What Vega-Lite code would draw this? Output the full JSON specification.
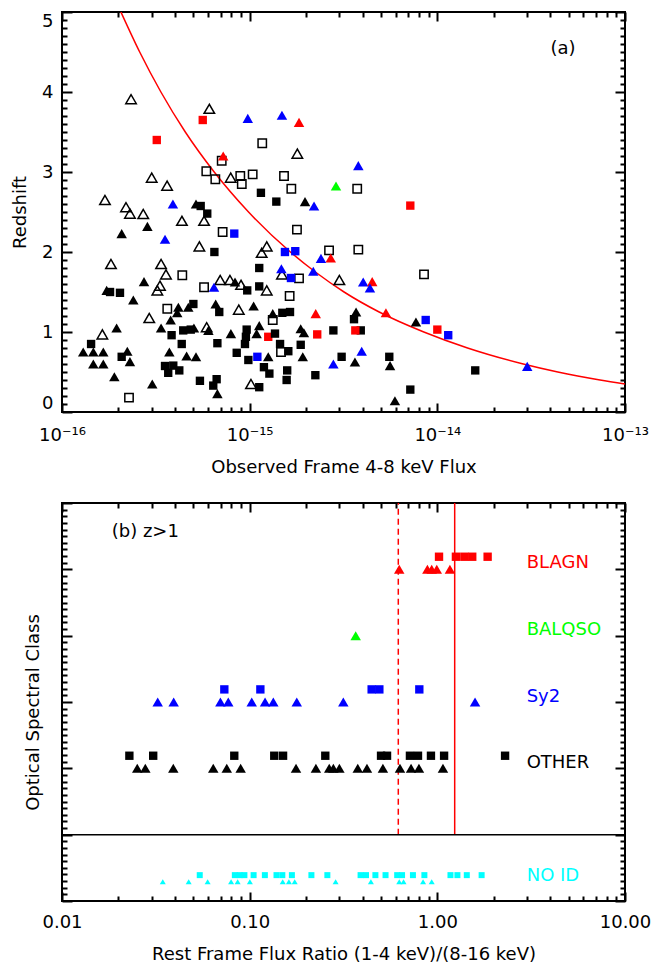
{
"$schema":"https://vega.github.io/schema/vega-lite/v6.json",
"padding":{"left":10,"top":9,"right":5,"bottom":5},
"spacing":24,
"config":{"view":{"stroke":"black","strokeWidth":2},
"axis":{"domain":false,"grid":false,"labelFont":"DejaVu Sans","titleFont":"DejaVu Sans","labelColor":"black","titleColor":"black","labelFontSize":18,"titleFontSize":18,"titleFontWeight":"normal","labelFlush":false,"labelOverlap":false,"labelBound":false},
"text":{"font":"DejaVu Sans"}},
"datasets":{
"curve":[{"lf":-15.686,"z":5.0},{"lf":-15.586,"z":4.5},{"lf":-15.473,"z":4.0},{"lf":-15.343,"z":3.5},{"lf":-15.189,"z":3.0},{"lf":-15.006,"z":2.5},{"lf":-14.783,"z":2.0},{"lf":-14.650,"z":1.75},{"lf":-14.497,"z":1.5},{"lf":-14.310,"z":1.25},{"lf":-14.072,"z":1.0},{"lf":-13.839,"z":0.8},{"lf":-13.542,"z":0.6},{"lf":-13.358,"z":0.5},{"lf":-13.133,"z":0.4},{"lf":-13.0,"z":0.35}],
"a":[
{"lf":-15.632,"z":3.91,"cls":"NOID","sym":"triangle"},
{"lf":-15.215,"z":3.79,"cls":"NOID","sym":"triangle"},
{"lf":-15.250,"z":3.65,"cls":"BLAGN","sym":"square"},
{"lf":-15.495,"z":3.40,"cls":"BLAGN","sym":"square"},
{"lf":-15.010,"z":3.67,"cls":"Sy2","sym":"triangle"},
{"lf":-14.828,"z":3.71,"cls":"Sy2","sym":"triangle"},
{"lf":-14.737,"z":3.62,"cls":"BLAGN","sym":"triangle"},
{"lf":-14.933,"z":3.36,"cls":"NOID","sym":"square"},
{"lf":-15.141,"z":3.20,"cls":"BLAGN","sym":"triangle"},
{"lf":-15.149,"z":3.14,"cls":"NOID","sym":"square"},
{"lf":-14.746,"z":3.23,"cls":"NOID","sym":"triangle"},
{"lf":-14.421,"z":3.08,"cls":"Sy2","sym":"triangle"},
{"lf":-15.231,"z":3.01,"cls":"NOID","sym":"square"},
{"lf":-15.183,"z":2.91,"cls":"NOID","sym":"square"},
{"lf":-15.101,"z":2.93,"cls":"NOID","sym":"triangle"},
{"lf":-15.050,"z":2.95,"cls":"NOID","sym":"square"},
{"lf":-15.042,"z":2.85,"cls":"NOID","sym":"square"},
{"lf":-14.984,"z":2.97,"cls":"NOID","sym":"square"},
{"lf":-14.817,"z":2.95,"cls":"NOID","sym":"square"},
{"lf":-14.778,"z":2.79,"cls":"NOID","sym":"square"},
{"lf":-15.522,"z":2.93,"cls":"NOID","sym":"triangle"},
{"lf":-15.440,"z":2.83,"cls":"NOID","sym":"triangle"},
{"lf":-14.540,"z":2.825,"cls":"BALQSO","sym":"triangle"},
{"lf":-14.427,"z":2.79,"cls":"NOID","sym":"square"},
{"lf":-14.940,"z":2.74,"cls":"OTHER","sym":"square"},
{"lf":-14.858,"z":2.63,"cls":"OTHER","sym":"square"},
{"lf":-14.705,"z":2.63,"cls":"OTHER","sym":"triangle"},
{"lf":-14.657,"z":2.575,"cls":"Sy2","sym":"triangle"},
{"lf":-15.771,"z":2.65,"cls":"NOID","sym":"triangle"},
{"lf":-15.659,"z":2.56,"cls":"NOID","sym":"triangle"},
{"lf":-15.638,"z":2.48,"cls":"NOID","sym":"triangle"},
{"lf":-15.567,"z":2.475,"cls":"NOID","sym":"triangle"},
{"lf":-15.409,"z":2.60,"cls":"Sy2","sym":"triangle"},
{"lf":-15.286,"z":2.60,"cls":"OTHER","sym":"triangle"},
{"lf":-15.261,"z":2.575,"cls":"OTHER","sym":"square"},
{"lf":-15.226,"z":2.48,"cls":"OTHER","sym":"square"},
{"lf":-14.144,"z":2.58,"cls":"BLAGN","sym":"square"},
{"lf":-15.361,"z":2.39,"cls":"NOID","sym":"triangle"},
{"lf":-15.243,"z":2.39,"cls":"NOID","sym":"triangle"},
{"lf":-15.545,"z":2.32,"cls":"OTHER","sym":"triangle"},
{"lf":-15.682,"z":2.23,"cls":"OTHER","sym":"triangle"},
{"lf":-15.144,"z":2.25,"cls":"NOID","sym":"square"},
{"lf":-15.082,"z":2.23,"cls":"Sy2","sym":"square"},
{"lf":-14.748,"z":2.28,"cls":"NOID","sym":"square"},
{"lf":-15.451,"z":2.16,"cls":"Sy2","sym":"triangle"},
{"lf":-15.268,"z":2.07,"cls":"NOID","sym":"triangle"},
{"lf":-15.188,"z":2.00,"cls":"OTHER","sym":"square"},
{"lf":-14.909,"z":2.07,"cls":"NOID","sym":"triangle"},
{"lf":-14.936,"z":1.99,"cls":"NOID","sym":"triangle"},
{"lf":-14.812,"z":2.00,"cls":"Sy2","sym":"square"},
{"lf":-14.757,"z":2.01,"cls":"Sy2","sym":"square"},
{"lf":-14.577,"z":2.02,"cls":"NOID","sym":"square"},
{"lf":-14.568,"z":1.925,"cls":"BLAGN","sym":"triangle"},
{"lf":-14.620,"z":1.92,"cls":"Sy2","sym":"triangle"},
{"lf":-14.421,"z":2.03,"cls":"NOID","sym":"square"},
{"lf":-15.739,"z":1.85,"cls":"NOID","sym":"triangle"},
{"lf":-15.472,"z":1.85,"cls":"NOID","sym":"triangle"},
{"lf":-15.446,"z":1.72,"cls":"NOID","sym":"triangle"},
{"lf":-15.359,"z":1.71,"cls":"NOID","sym":"square"},
{"lf":-14.949,"z":1.80,"cls":"OTHER","sym":"square"},
{"lf":-14.831,"z":1.79,"cls":"Sy2","sym":"triangle"},
{"lf":-14.828,"z":1.72,"cls":"NOID","sym":"triangle"},
{"lf":-14.780,"z":1.675,"cls":"Sy2","sym":"square"},
{"lf":-14.737,"z":1.67,"cls":"NOID","sym":"square"},
{"lf":-14.661,"z":1.76,"cls":"Sy2","sym":"triangle"},
{"lf":-14.522,"z":1.65,"cls":"NOID","sym":"triangle"},
{"lf":-15.563,"z":1.63,"cls":"OTHER","sym":"triangle"},
{"lf":-15.478,"z":1.58,"cls":"NOID","sym":"triangle"},
{"lf":-15.492,"z":1.52,"cls":"NOID","sym":"triangle"},
{"lf":-15.243,"z":1.56,"cls":"NOID","sym":"square"},
{"lf":-15.190,"z":1.56,"cls":"Sy2","sym":"triangle"},
{"lf":-15.157,"z":1.65,"cls":"NOID","sym":"triangle"},
{"lf":-15.105,"z":1.65,"cls":"NOID","sym":"triangle"},
{"lf":-15.078,"z":1.625,"cls":"OTHER","sym":"triangle"},
{"lf":-15.046,"z":1.59,"cls":"NOID","sym":"triangle"},
{"lf":-15.013,"z":1.52,"cls":"OTHER","sym":"square"},
{"lf":-14.949,"z":1.57,"cls":"OTHER","sym":"square"},
{"lf":-14.909,"z":1.52,"cls":"NOID","sym":"triangle"},
{"lf":-15.762,"z":1.52,"cls":"OTHER","sym":"triangle"},
{"lf":-15.744,"z":1.50,"cls":"OTHER","sym":"square"},
{"lf":-15.691,"z":1.49,"cls":"OTHER","sym":"square"},
{"lf":-15.620,"z":1.40,"cls":"OTHER","sym":"triangle"},
{"lf":-14.787,"z":1.45,"cls":"NOID","sym":"square"},
{"lf":-15.439,"z":1.29,"cls":"NOID","sym":"square"},
{"lf":-15.380,"z":1.31,"cls":"OTHER","sym":"triangle"},
{"lf":-15.386,"z":1.24,"cls":"OTHER","sym":"triangle"},
{"lf":-15.327,"z":1.31,"cls":"OTHER","sym":"triangle"},
{"lf":-15.300,"z":1.35,"cls":"OTHER","sym":"square"},
{"lf":-15.181,"z":1.35,"cls":"OTHER","sym":"triangle"},
{"lf":-15.162,"z":1.25,"cls":"OTHER","sym":"square"},
{"lf":-15.058,"z":1.28,"cls":"NOID","sym":"triangle"},
{"lf":-14.979,"z":1.325,"cls":"OTHER","sym":"triangle"},
{"lf":-14.877,"z":1.23,"cls":"OTHER","sym":"triangle"},
{"lf":-14.826,"z":1.24,"cls":"OTHER","sym":"square"},
{"lf":-14.785,"z":1.25,"cls":"OTHER","sym":"square"},
{"lf":-14.877,"z":1.15,"cls":"NOID","sym":"square"},
{"lf":-14.648,"z":1.23,"cls":"BLAGN","sym":"triangle"},
{"lf":-14.433,"z":1.25,"cls":"OTHER","sym":"triangle"},
{"lf":-14.444,"z":1.16,"cls":"OTHER","sym":"square"},
{"lf":-15.535,"z":1.175,"cls":"NOID","sym":"triangle"},
{"lf":-15.421,"z":1.15,"cls":"OTHER","sym":"triangle"},
{"lf":-15.472,"z":1.05,"cls":"OTHER","sym":"triangle"},
{"lf":-15.709,"z":1.05,"cls":"OTHER","sym":"triangle"},
{"lf":-15.785,"z":0.97,"cls":"NOID","sym":"triangle"},
{"lf":-15.354,"z":1.02,"cls":"OTHER","sym":"square"},
{"lf":-15.314,"z":1.03,"cls":"OTHER","sym":"square"},
{"lf":-15.297,"z":1.05,"cls":"OTHER","sym":"triangle"},
{"lf":-15.229,"z":1.06,"cls":"NOID","sym":"triangle"},
{"lf":-15.220,"z":1.02,"cls":"OTHER","sym":"triangle"},
{"lf":-15.416,"z":0.96,"cls":"OTHER","sym":"square"},
{"lf":-15.362,"z":0.85,"cls":"OTHER","sym":"square"},
{"lf":-15.100,"z":0.98,"cls":"OTHER","sym":"triangle"},
{"lf":-15.016,"z":1.03,"cls":"OTHER","sym":"square"},
{"lf":-15.020,"z":0.94,"cls":"OTHER","sym":"square"},
{"lf":-15.025,"z":0.85,"cls":"OTHER","sym":"square"},
{"lf":-14.949,"z":1.08,"cls":"OTHER","sym":"triangle"},
{"lf":-14.963,"z":0.98,"cls":"OTHER","sym":"triangle"},
{"lf":-14.901,"z":0.94,"cls":"BLAGN","sym":"square"},
{"lf":-14.865,"z":0.98,"cls":"OTHER","sym":"square"},
{"lf":-14.838,"z":0.85,"cls":"OTHER","sym":"square"},
{"lf":-14.833,"z":0.75,"cls":"NOID","sym":"square"},
{"lf":-14.794,"z":0.76,"cls":"OTHER","sym":"square"},
{"lf":-14.728,"z":1.04,"cls":"OTHER","sym":"triangle"},
{"lf":-14.711,"z":0.99,"cls":"OTHER","sym":"triangle"},
{"lf":-14.728,"z":0.84,"cls":"OTHER","sym":"square"},
{"lf":-14.640,"z":0.97,"cls":"BLAGN","sym":"square"},
{"lf":-14.554,"z":1.02,"cls":"OTHER","sym":"square"},
{"lf":-14.408,"z":1.02,"cls":"OTHER","sym":"square"},
{"lf":-14.437,"z":1.02,"cls":"BLAGN","sym":"square"},
{"lf":-15.845,"z":0.85,"cls":"OTHER","sym":"square"},
{"lf":-15.887,"z":0.75,"cls":"OTHER","sym":"triangle"},
{"lf":-15.833,"z":0.75,"cls":"OTHER","sym":"triangle"},
{"lf":-15.780,"z":0.75,"cls":"OTHER","sym":"triangle"},
{"lf":-15.833,"z":0.60,"cls":"OTHER","sym":"triangle"},
{"lf":-15.780,"z":0.60,"cls":"OTHER","sym":"triangle"},
{"lf":-15.682,"z":0.69,"cls":"OTHER","sym":"square"},
{"lf":-15.652,"z":0.76,"cls":"OTHER","sym":"triangle"},
{"lf":-15.638,"z":0.63,"cls":"OTHER","sym":"triangle"},
{"lf":-15.721,"z":0.44,"cls":"OTHER","sym":"triangle"},
{"lf":-15.428,"z":0.75,"cls":"OTHER","sym":"triangle"},
{"lf":-15.336,"z":0.70,"cls":"OTHER","sym":"triangle"},
{"lf":-15.286,"z":0.69,"cls":"OTHER","sym":"triangle"},
{"lf":-15.172,"z":0.86,"cls":"OTHER","sym":"square"},
{"lf":-15.069,"z":0.74,"cls":"OTHER","sym":"square"},
{"lf":-15.007,"z":0.65,"cls":"OTHER","sym":"square"},
{"lf":-14.959,"z":0.69,"cls":"Sy2","sym":"square"},
{"lf":-14.901,"z":0.69,"cls":"OTHER","sym":"triangle"},
{"lf":-14.717,"z":0.69,"cls":"OTHER","sym":"triangle"},
{"lf":-14.510,"z":0.69,"cls":"OTHER","sym":"square"},
{"lf":-15.451,"z":0.575,"cls":"OTHER","sym":"square"},
{"lf":-15.407,"z":0.58,"cls":"OTHER","sym":"square"},
{"lf":-15.375,"z":0.52,"cls":"OTHER","sym":"square"},
{"lf":-15.434,"z":0.49,"cls":"OTHER","sym":"square"},
{"lf":-15.265,"z":0.39,"cls":"OTHER","sym":"square"},
{"lf":-15.176,"z":0.41,"cls":"OTHER","sym":"square"},
{"lf":-15.194,"z":0.33,"cls":"OTHER","sym":"square"},
{"lf":-15.172,"z":0.23,"cls":"OTHER","sym":"triangle"},
{"lf":-15.519,"z":0.35,"cls":"OTHER","sym":"triangle"},
{"lf":-14.993,"z":0.35,"cls":"NOID","sym":"triangle"},
{"lf":-14.949,"z":0.31,"cls":"OTHER","sym":"square"},
{"lf":-14.924,"z":0.56,"cls":"OTHER","sym":"square"},
{"lf":-14.895,"z":0.48,"cls":"OTHER","sym":"square"},
{"lf":-14.800,"z":0.52,"cls":"OTHER","sym":"square"},
{"lf":-14.803,"z":0.40,"cls":"OTHER","sym":"square"},
{"lf":-14.650,"z":0.46,"cls":"OTHER","sym":"square"},
{"lf":-14.554,"z":0.60,"cls":"Sy2","sym":"triangle"},
{"lf":-14.439,"z":0.625,"cls":"OTHER","sym":"triangle"},
{"lf":-15.643,"z":0.18,"cls":"NOID","sym":"square"},
{"lf":-14.071,"z":1.72,"cls":"NOID","sym":"square"},
{"lf":-14.395,"z":1.625,"cls":"Sy2","sym":"triangle"},
{"lf":-14.347,"z":1.63,"cls":"BLAGN","sym":"triangle"},
{"lf":-14.359,"z":1.55,"cls":"Sy2","sym":"triangle"},
{"lf":-14.274,"z":1.24,"cls":"BLAGN","sym":"triangle"},
{"lf":-14.114,"z":1.125,"cls":"OTHER","sym":"triangle"},
{"lf":-14.062,"z":1.15,"cls":"Sy2","sym":"square"},
{"lf":-14.000,"z":1.03,"cls":"BLAGN","sym":"square"},
{"lf":-13.942,"z":0.96,"cls":"Sy2","sym":"square"},
{"lf":-14.403,"z":0.76,"cls":"Sy2","sym":"triangle"},
{"lf":-14.256,"z":0.69,"cls":"OTHER","sym":"square"},
{"lf":-14.252,"z":0.58,"cls":"OTHER","sym":"triangle"},
{"lf":-13.798,"z":0.52,"cls":"OTHER","sym":"square"},
{"lf":-13.521,"z":0.57,"cls":"Sy2","sym":"triangle"},
{"lf":-14.144,"z":0.28,"cls":"OTHER","sym":"square"},
{"lf":-14.226,"z":0.14,"cls":"OTHER","sym":"triangle"}
],
"b":[
{"lr":-1.490,"y":3,"cls":"Sy2","sym":"triangle"},
{"lr":-1.405,"y":3,"cls":"Sy2","sym":"triangle"},
{"lr":-1.156,"y":3,"cls":"Sy2","sym":"triangle"},
{"lr":-1.114,"y":3,"cls":"Sy2","sym":"triangle"},
{"lr":-0.989,"y":3,"cls":"Sy2","sym":"triangle"},
{"lr":-0.918,"y":3,"cls":"Sy2","sym":"triangle"},
{"lr":-0.874,"y":3,"cls":"Sy2","sym":"triangle"},
{"lr":-0.749,"y":3,"cls":"Sy2","sym":"triangle"},
{"lr":-0.501,"y":3,"cls":"Sy2","sym":"triangle"},
{"lr":0.201,"y":3,"cls":"Sy2","sym":"triangle"},
{"lr":-1.135,"y":3.19,"cls":"Sy2","sym":"square"},
{"lr":-0.943,"y":3.19,"cls":"Sy2","sym":"square"},
{"lr":-0.350,"y":3.19,"cls":"Sy2","sym":"square"},
{"lr":-0.309,"y":3.19,"cls":"Sy2","sym":"square"},
{"lr":-0.096,"y":3.19,"cls":"Sy2","sym":"square"},
{"lr":-0.435,"y":4,"cls":"BALQSO","sym":"triangle"},
{"lr":-0.203,"y":5,"cls":"BLAGN","sym":"triangle"},
{"lr":-0.053,"y":5,"cls":"BLAGN","sym":"triangle"},
{"lr":-0.030,"y":5,"cls":"BLAGN","sym":"triangle"},
{"lr":-0.003,"y":5,"cls":"BLAGN","sym":"triangle"},
{"lr":0.067,"y":5,"cls":"BLAGN","sym":"triangle"},
{"lr":0.009,"y":5.19,"cls":"BLAGN","sym":"square"},
{"lr":0.099,"y":5.19,"cls":"BLAGN","sym":"square"},
{"lr":0.144,"y":5.19,"cls":"BLAGN","sym":"square"},
{"lr":0.186,"y":5.19,"cls":"BLAGN","sym":"square"},
{"lr":0.268,"y":5.19,"cls":"BLAGN","sym":"square"},
{"lr":-1.641,"y":2.19,"cls":"OTHER","sym":"square"},
{"lr":-1.514,"y":2.19,"cls":"OTHER","sym":"square"},
{"lr":-1.082,"y":2.19,"cls":"OTHER","sym":"square"},
{"lr":-0.869,"y":2.19,"cls":"OTHER","sym":"square"},
{"lr":-0.822,"y":2.19,"cls":"OTHER","sym":"square"},
{"lr":-0.597,"y":2.19,"cls":"OTHER","sym":"square"},
{"lr":-0.300,"y":2.19,"cls":"OTHER","sym":"square"},
{"lr":-0.268,"y":2.19,"cls":"OTHER","sym":"square"},
{"lr":-0.146,"y":2.19,"cls":"OTHER","sym":"square"},
{"lr":-0.103,"y":2.19,"cls":"OTHER","sym":"square"},
{"lr":-0.034,"y":2.19,"cls":"OTHER","sym":"square"},
{"lr":0.036,"y":2.19,"cls":"OTHER","sym":"square"},
{"lr":0.361,"y":2.19,"cls":"OTHER","sym":"square"},
{"lr":-1.599,"y":2,"cls":"OTHER","sym":"triangle"},
{"lr":-1.556,"y":2,"cls":"OTHER","sym":"triangle"},
{"lr":-1.407,"y":2,"cls":"OTHER","sym":"triangle"},
{"lr":-1.194,"y":2,"cls":"OTHER","sym":"triangle"},
{"lr":-1.122,"y":2,"cls":"OTHER","sym":"triangle"},
{"lr":-1.048,"y":2,"cls":"OTHER","sym":"triangle"},
{"lr":-0.753,"y":2,"cls":"OTHER","sym":"triangle"},
{"lr":-0.647,"y":2,"cls":"OTHER","sym":"triangle"},
{"lr":-0.576,"y":2,"cls":"OTHER","sym":"triangle"},
{"lr":-0.554,"y":2,"cls":"OTHER","sym":"triangle"},
{"lr":-0.522,"y":2,"cls":"OTHER","sym":"triangle"},
{"lr":-0.424,"y":2,"cls":"OTHER","sym":"triangle"},
{"lr":-0.375,"y":2,"cls":"OTHER","sym":"triangle"},
{"lr":-0.290,"y":2,"cls":"OTHER","sym":"triangle"},
{"lr":-0.199,"y":2,"cls":"OTHER","sym":"triangle"},
{"lr":-0.140,"y":2,"cls":"OTHER","sym":"triangle"},
{"lr":-0.098,"y":2,"cls":"OTHER","sym":"triangle"},
{"lr":0.030,"y":2,"cls":"OTHER","sym":"triangle"},
{"lr":-1.463,"y":0.29,"cls":"NOID","sym":"triangle"},
{"lr":-1.325,"y":0.29,"cls":"NOID","sym":"triangle"},
{"lr":-1.224,"y":0.29,"cls":"NOID","sym":"triangle"},
{"lr":-1.099,"y":0.29,"cls":"NOID","sym":"triangle"},
{"lr":-1.064,"y":0.29,"cls":"NOID","sym":"triangle"},
{"lr":-0.999,"y":0.29,"cls":"NOID","sym":"triangle"},
{"lr":-0.824,"y":0.29,"cls":"NOID","sym":"triangle"},
{"lr":-0.791,"y":0.29,"cls":"NOID","sym":"triangle"},
{"lr":-0.760,"y":0.29,"cls":"NOID","sym":"triangle"},
{"lr":-0.542,"y":0.29,"cls":"NOID","sym":"triangle"},
{"lr":-0.354,"y":0.29,"cls":"NOID","sym":"triangle"},
{"lr":-0.203,"y":0.29,"cls":"NOID","sym":"triangle"},
{"lr":-0.180,"y":0.29,"cls":"NOID","sym":"triangle"},
{"lr":-0.076,"y":0.29,"cls":"NOID","sym":"triangle"},
{"lr":-0.030,"y":0.29,"cls":"NOID","sym":"triangle"},
{"lr":-1.266,"y":0.39,"cls":"NOID","sym":"square"},
{"lr":-1.079,"y":0.39,"cls":"NOID","sym":"square"},
{"lr":-1.053,"y":0.39,"cls":"NOID","sym":"square"},
{"lr":-1.028,"y":0.39,"cls":"NOID","sym":"square"},
{"lr":-0.979,"y":0.39,"cls":"NOID","sym":"square"},
{"lr":-0.919,"y":0.39,"cls":"NOID","sym":"square"},
{"lr":-0.857,"y":0.39,"cls":"NOID","sym":"square"},
{"lr":-0.826,"y":0.39,"cls":"NOID","sym":"square"},
{"lr":-0.775,"y":0.39,"cls":"NOID","sym":"square"},
{"lr":-0.671,"y":0.39,"cls":"NOID","sym":"square"},
{"lr":-0.586,"y":0.39,"cls":"NOID","sym":"square"},
{"lr":-0.409,"y":0.39,"cls":"NOID","sym":"square"},
{"lr":-0.380,"y":0.39,"cls":"NOID","sym":"square"},
{"lr":-0.330,"y":0.39,"cls":"NOID","sym":"square"},
{"lr":-0.276,"y":0.39,"cls":"NOID","sym":"square"},
{"lr":-0.214,"y":0.39,"cls":"NOID","sym":"square"},
{"lr":-0.188,"y":0.39,"cls":"NOID","sym":"square"},
{"lr":-0.130,"y":0.39,"cls":"NOID","sym":"square"},
{"lr":-0.069,"y":0.39,"cls":"NOID","sym":"square"},
{"lr":0.070,"y":0.39,"cls":"NOID","sym":"square"},
{"lr":0.107,"y":0.39,"cls":"NOID","sym":"square"},
{"lr":0.157,"y":0.39,"cls":"NOID","sym":"square"},
{"lr":0.236,"y":0.39,"cls":"NOID","sym":"square"}
],
"blabels":[
{"t":"BLAGN","cls":"BLAGN","lr":0.476,"y":5.09},
{"t":"BALQSO","cls":"BALQSO","lr":0.476,"y":4.09},
{"t":"Sy2","cls":"Sy2","lr":0.476,"y":3.07},
{"t":"OTHER","cls":"OTHER","lr":0.476,"y":2.08},
{"t":"NO ID","cls":"NOID","lr":0.476,"y":0.38}
]
},
"vconcat":[
{
"width":563,"height":400,
"layer":[
{"data":{"name":"curve"},"mark":{"type":"line","color":"#ff0000","strokeWidth":1.5,"interpolate":"monotone","clip":true},
"encoding":{
"x":{"field":"lf","type":"quantitative","scale":{"domain":[-16,-13],"nice":false,"zero":false},
"axis":{"orient":"bottom","values":[-16,-15.699,-15.523,-15.398,-15.301,-15.222,-15.155,-15.097,-15.046,-15,-14.699,-14.523,-14.398,-14.301,-14.222,-14.155,-14.097,-14.046,-14,-13.699,-13.523,-13.398,-13.301,-13.222,-13.155,-13.097,-13.046,-13],
"tickCount":1000,"tickSize":0,"labelPadding":28,"labelBaseline":"alphabetic","zindex":1,
"grid":true,"gridColor":"black","gridWidth":2,"gridOpacity":1,
"gridDash":{"condition":{"test":"abs(datum.value - round(datum.value)) < 0.001","value":[9,382,9,1000]},"value":[5,390,5,1000]},
"labelExpr":"datum.value == -16 ? '10⁻¹⁶' : datum.value == -15 ? '10⁻¹⁵' : datum.value == -14 ? '10⁻¹⁴' : datum.value == -13 ? '10⁻¹³' : ''",
"title":"Observed Frame 4-8 keV Flux","titleBaseline":"alphabetic","titleY":60}},
"y":{"field":"z","type":"quantitative","scale":{"domain":[0,5],"nice":false,"zero":false},
"axis":{"orient":"left","values":[0,0.1,0.2,0.3,0.4,0.5,0.6,0.7,0.8,0.9,1,1.1,1.2,1.3,1.4,1.5,1.6,1.7,1.8,1.9,2,2.1,2.2,2.3,2.4,2.5,2.6,2.7,2.8,2.9,3,3.1,3.2,3.3,3.4,3.5,3.6,3.7,3.8,3.9,4,4.1,4.2,4.3,4.4,4.5,4.6,4.7,4.8,4.9,5],
"tickCount":1000,"tickSize":0,"labelPadding":9,"labelFlush":true,"zindex":1,
"grid":true,"gridColor":"black","gridWidth":2,"gridOpacity":1,
"gridDash":{"condition":{"test":"abs(datum.value - round(datum.value)) < 0.001","value":[10,543,10,1000]},"value":[5,553,5,1000]},
"labelExpr":"abs(datum.value - round(datum.value)) < 0.001 ? format(datum.value, 'd') : ''",
"title":"Redshift","titleBaseline":"alphabetic","titleX":-37}}}},
{"data":{"name":"a"},"transform":[{"filter":"datum.cls == 'NOID'"}],
"mark":{"type":"point","filled":false,"color":"black","strokeWidth":1.5,"opacity":1},
"encoding":{
"x":{"field":"lf","type":"quantitative","scale":{"domain":[-16,-13],"nice":false,"zero":false},"axis":null},
"y":{"field":"z","type":"quantitative","scale":{"domain":[0,5],"nice":false,"zero":false},"axis":null},
"shape":{"field":"sym","type":"nominal","scale":{"domain":["square","triangle"],"range":["square","triangle-up"]},"legend":null},
"size":{"field":"sym","type":"nominal","scale":{"domain":["square","triangle"],"range":[70,110]},"legend":null}}},
{"data":{"name":"a"},"transform":[{"filter":"datum.cls != 'NOID'"}],
"mark":{"type":"point","filled":true,"opacity":1,"strokeWidth":0},
"encoding":{
"x":{"field":"lf","type":"quantitative","scale":{"domain":[-16,-13],"nice":false,"zero":false},"axis":null},
"y":{"field":"z","type":"quantitative","scale":{"domain":[0,5],"nice":false,"zero":false},"axis":null},
"shape":{"field":"sym","type":"nominal","scale":{"domain":["square","triangle"],"range":["square","triangle-up"]},"legend":null},
"size":{"field":"sym","type":"nominal","scale":{"domain":["square","triangle"],"range":[100,140]},"legend":null},
"color":{"field":"cls","type":"nominal","scale":{"domain":["BLAGN","BALQSO","Sy2","OTHER","NOID"],"range":["#ff0000","#00ff00","#0000ff","#000000","#00ffff"]},"legend":null}}},
{"data":{"values":[{"lf":-13.33,"z":4.54,"t":"(a)"}]},
"mark":{"type":"text","fontSize":18,"color":"black","baseline":"middle","align":"center"},
"encoding":{
"x":{"field":"lf","type":"quantitative","scale":{"domain":[-16,-13],"nice":false,"zero":false},"axis":null},
"y":{"field":"z","type":"quantitative","scale":{"domain":[0,5],"nice":false,"zero":false},"axis":null},
"text":{"field":"t"}}}
],
"resolve":{"axis":{"x":"independent","y":"independent"}}
},
{
"width":563,"height":398,
"layer":[
{"data":{"values":[{"lr":-0.208}]},"mark":{"type":"rule","color":"#ff0000","strokeWidth":1.5,"strokeDash":[6,4]},
"encoding":{"x":{"field":"lr","type":"quantitative","scale":{"domain":[-2,1],"nice":false,"zero":false},"axis":null},
"y":{"datum":1,"type":"quantitative","scale":{"domain":[0,6],"nice":false,"zero":false},"axis":null},"y2":{"datum":6}}},
{"data":{"values":[{"lr":0.0925}]},"mark":{"type":"rule","color":"#ff0000","strokeWidth":1.5},
"encoding":{"x":{"field":"lr","type":"quantitative","scale":{"domain":[-2,1],"nice":false,"zero":false},"axis":null},
"y":{"datum":1,"type":"quantitative","scale":{"domain":[0,6],"nice":false,"zero":false},"axis":null},"y2":{"datum":6}}},
{"data":{"values":[{"y":1}]},"mark":{"type":"rule","color":"black","strokeWidth":1.5},
"encoding":{"y":{"field":"y","type":"quantitative","scale":{"domain":[0,6],"nice":false,"zero":false},"axis":null}}},
{"data":{"name":"b"},"transform":[{"filter":"datum.cls != 'NOID'"}],
"mark":{"type":"point","filled":true,"opacity":1,"strokeWidth":0},
"encoding":{
"x":{"field":"lr","type":"quantitative","scale":{"domain":[-2,1],"nice":false,"zero":false},
"axis":{"orient":"bottom","values":[-2,-1.699,-1.523,-1.398,-1.301,-1.222,-1.155,-1.097,-1.046,-1,-0.699,-0.523,-0.398,-0.301,-0.222,-0.155,-0.097,-0.046,0,0.301,0.477,0.602,0.699,0.778,0.845,0.903,0.954,1],
"tickCount":1000,"tickSize":0,"labelPadding":26,"labelBaseline":"alphabetic","zindex":1,
"grid":true,"gridColor":"black","gridWidth":2,"gridOpacity":1,
"gridDash":{"condition":{"test":"abs(datum.value - round(datum.value)) < 0.001","value":[9,380,9,1000]},"value":[5,388,5,1000]},
"labelExpr":"abs(datum.value - round(datum.value)) < 0.001 ? format(pow(10, datum.value), '.2f') : ''",
"title":"Rest Frame Flux Ratio (1-4 keV)/(8-16 keV)","titleBaseline":"alphabetic","titleY":58}},
"y":{"field":"y","type":"quantitative","scale":{"domain":[0,6],"nice":false,"zero":false},
"axis":{"orient":"left","values":[0,0.1,0.2,0.3,0.4,0.5,0.6,0.7,0.8,0.9,1,1.1,1.2,1.3,1.4,1.5,1.6,1.7,1.8,1.9,2,2.1,2.2,2.3,2.4,2.5,2.6,2.7,2.8,2.9,3,3.1,3.2,3.3,3.4,3.5,3.6,3.7,3.8,3.9,4,4.1,4.2,4.3,4.4,4.5,4.6,4.7,4.8,4.9,5,5.1,5.2,5.3,5.4,5.5,5.6,5.7,5.8,5.9,6],
"tickCount":1000,"tickSize":0,"labels":false,"zindex":1,
"grid":true,"gridColor":"black","gridWidth":2,"gridOpacity":1,
"gridDash":{"condition":{"test":"abs(datum.value - round(datum.value)) < 0.001","value":[10,543,10,1000]},"value":[5,553,5,1000]},
"title":"Optical Spectral Class","titleBaseline":"alphabetic","titleX":-24,"titleY":209}},
"shape":{"field":"sym","type":"nominal","scale":{"domain":["square","triangle"],"range":["square","triangle-up"]},"legend":null},
"size":{"field":"sym","type":"nominal","scale":{"domain":["square","triangle"],"range":[100,140]},"legend":null},
"color":{"field":"cls","type":"nominal","scale":{"domain":["BLAGN","BALQSO","Sy2","OTHER","NOID"],"range":["#ff0000","#00ff00","#0000ff","#000000","#00ffff"]},"legend":null}}},
{"data":{"name":"b"},"transform":[{"filter":"datum.cls == 'NOID'"}],
"mark":{"type":"point","filled":true,"opacity":1,"strokeWidth":0,"size":36,"color":"#00ffff"},
"encoding":{
"x":{"field":"lr","type":"quantitative","scale":{"domain":[-2,1],"nice":false,"zero":false},"axis":null},
"y":{"field":"y","type":"quantitative","scale":{"domain":[0,6],"nice":false,"zero":false},"axis":null},
"shape":{"field":"sym","type":"nominal","scale":{"domain":["square","triangle"],"range":["square","triangle-up"]},"legend":null}}},
{"data":{"name":"blabels"},
"mark":{"type":"text","fontSize":18,"align":"left","baseline":"middle"},
"encoding":{
"x":{"field":"lr","type":"quantitative","scale":{"domain":[-2,1],"nice":false,"zero":false},"axis":null},
"y":{"field":"y","type":"quantitative","scale":{"domain":[0,6],"nice":false,"zero":false},"axis":null},
"text":{"field":"t"},
"color":{"field":"cls","type":"nominal","scale":{"domain":["BLAGN","BALQSO","Sy2","OTHER","NOID"],"range":["#ff0000","#00ff00","#0000ff","#000000","#00ffff"]},"legend":null}}},
{"data":{"values":[{"t":"(b)  z>1","lr":-1.735,"y":5.56}]},
"mark":{"type":"text","fontSize":18,"align":"left","baseline":"middle","color":"black"},
"encoding":{
"x":{"field":"lr","type":"quantitative","scale":{"domain":[-2,1],"nice":false,"zero":false},"axis":null},
"y":{"field":"y","type":"quantitative","scale":{"domain":[0,6],"nice":false,"zero":false},"axis":null},
"text":{"field":"t"}}}
],
"resolve":{"axis":{"x":"independent","y":"independent"}}
}
]
}
